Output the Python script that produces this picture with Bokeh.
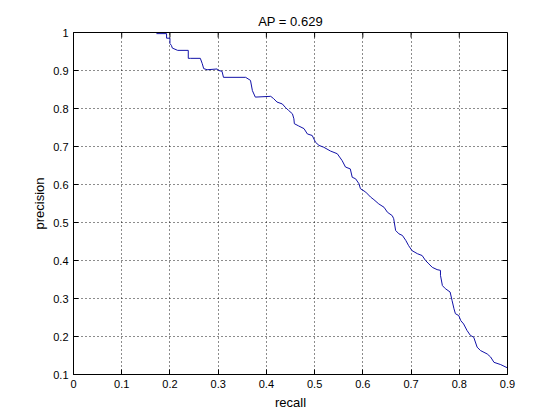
import math
from bokeh.plotting import figure
from bokeh.models import FixedTicker, NumeralTickFormatter, Range1d
from bokeh.embed import file_html
from bokeh.resources import INLINE

title_text = "AP = 0.629"
x_label = "recall"
y_label = "precision"
x_ticks = [0, 0.1, 0.2, 0.3, 0.4, 0.5, 0.6, 0.7, 0.8, 0.9]
y_ticks = [0.1, 0.2, 0.3, 0.4, 0.5, 0.6, 0.7, 0.8, 0.9, 1.0]

recall = [0.172, 0.193, 0.193, 0.2, 0.2, 0.203, 0.205, 0.216, 0.238, 0.238, 0.243,
          0.263, 0.267, 0.27, 0.277, 0.298, 0.301, 0.308, 0.311, 0.357, 0.367,
          0.371, 0.377, 0.409, 0.415, 0.422, 0.433, 0.44, 0.446, 0.454, 0.457,
          0.458, 0.467, 0.478, 0.485, 0.495, 0.502, 0.509, 0.519, 0.533, 0.547,
          0.557, 0.564, 0.574, 0.578, 0.585, 0.592, 0.595, 0.606, 0.616, 0.623,
          0.633, 0.644, 0.651, 0.661, 0.664, 0.668, 0.675, 0.682, 0.689, 0.695,
          0.702, 0.713, 0.723, 0.73, 0.737, 0.744, 0.754, 0.761, 0.761, 0.765,
          0.771, 0.781, 0.785, 0.789, 0.792, 0.799, 0.803, 0.809, 0.816, 0.823,
          0.83, 0.837, 0.844, 0.858, 0.865, 0.872, 0.886, 0.899]
precision = [0.997, 0.997, 0.985, 0.985, 0.971, 0.966, 0.959, 0.953, 0.953, 0.932, 0.932,
             0.932, 0.918, 0.905, 0.902, 0.904, 0.9, 0.898, 0.882, 0.882, 0.874,
             0.847, 0.83, 0.832, 0.826, 0.817, 0.812, 0.802, 0.795, 0.786, 0.773,
             0.76, 0.754, 0.747, 0.733, 0.729, 0.711, 0.703, 0.698, 0.688, 0.681,
             0.663, 0.646, 0.641, 0.619, 0.615, 0.602, 0.589, 0.58, 0.567, 0.56,
             0.549, 0.54, 0.527, 0.518, 0.51, 0.479, 0.47, 0.466, 0.453, 0.439,
             0.426, 0.418, 0.413, 0.4, 0.391, 0.382, 0.376, 0.374, 0.361, 0.334,
             0.326, 0.317, 0.295, 0.273, 0.26, 0.255, 0.242, 0.233, 0.216, 0.203,
             0.198, 0.172, 0.163, 0.154, 0.146, 0.132, 0.126, 0.118]

FONT = "Liberation Sans"
X0, X1 = x_ticks[0], x_ticks[-1]
Y0, Y1 = y_ticks[0], y_ticks[-1]

p = figure(frame_width=434, frame_height=342, output_backend="svg",
           toolbar_location=None, x_range=Range1d(X0, X1), y_range=Range1d(Y0, Y1),
           min_border_left=73, min_border_top=32, min_border_right=20,
           min_border_bottom=20, title=title_text)

p.title.align = "center"
p.title.text_font = FONT
p.title.text_font_size = "13px"
p.title.text_font_style = "normal"
p.title.text_color = "black"
p.title.standoff = 7

p.outline_line_color = "black"
p.outline_line_width = 1
p.outline_line_alpha = 1.0

for ax, ticks in ((p.xaxis[0], x_ticks), (p.yaxis[0], y_ticks)):
    ax.ticker = FixedTicker(ticks=ticks)
    ax.formatter = NumeralTickFormatter(format="0.[0]")
    ax.major_tick_in = 5
    ax.major_tick_out = 0
    ax.minor_tick_line_color = None
    ax.axis_line_color = "black"
    ax.major_tick_line_color = "black"
    ax.major_label_text_font = FONT
    ax.major_label_text_font_size = "11px"
    ax.major_label_text_color = "black"
    ax.axis_label_text_font = FONT
    ax.axis_label_text_font_size = "13px"
    ax.axis_label_text_font_style = "normal"
    ax.axis_label_text_color = "black"
    ax.major_label_standoff = 5

p.xaxis.axis_label = x_label
p.yaxis.axis_label = y_label
p.xaxis.axis_label_standoff = 4
p.yaxis.axis_label_standoff = 3

for g, ticks in ((p.xgrid[0], x_ticks), (p.ygrid[0], y_ticks)):
    g.ticker = FixedTicker(ticks=ticks)
    g.grid_line_color = "black"
    g.grid_line_dash = "1 3"
    g.grid_line_width = 1
    g.grid_line_alpha = 0.9

# inward ticks on top and right edges (box on)
p.ray(x=x_ticks, y=[Y1] * len(x_ticks), length=5, length_units="screen",
      angle=-math.pi / 2, line_color="black", line_width=1)
p.ray(x=[X1] * len(y_ticks), y=y_ticks, length=5, length_units="screen",
      angle=math.pi, line_color="black", line_width=1)

p.line(recall, precision, line_color="#1212a8", line_width=1)

open("out.html", "w").write(file_html(p, INLINE))
